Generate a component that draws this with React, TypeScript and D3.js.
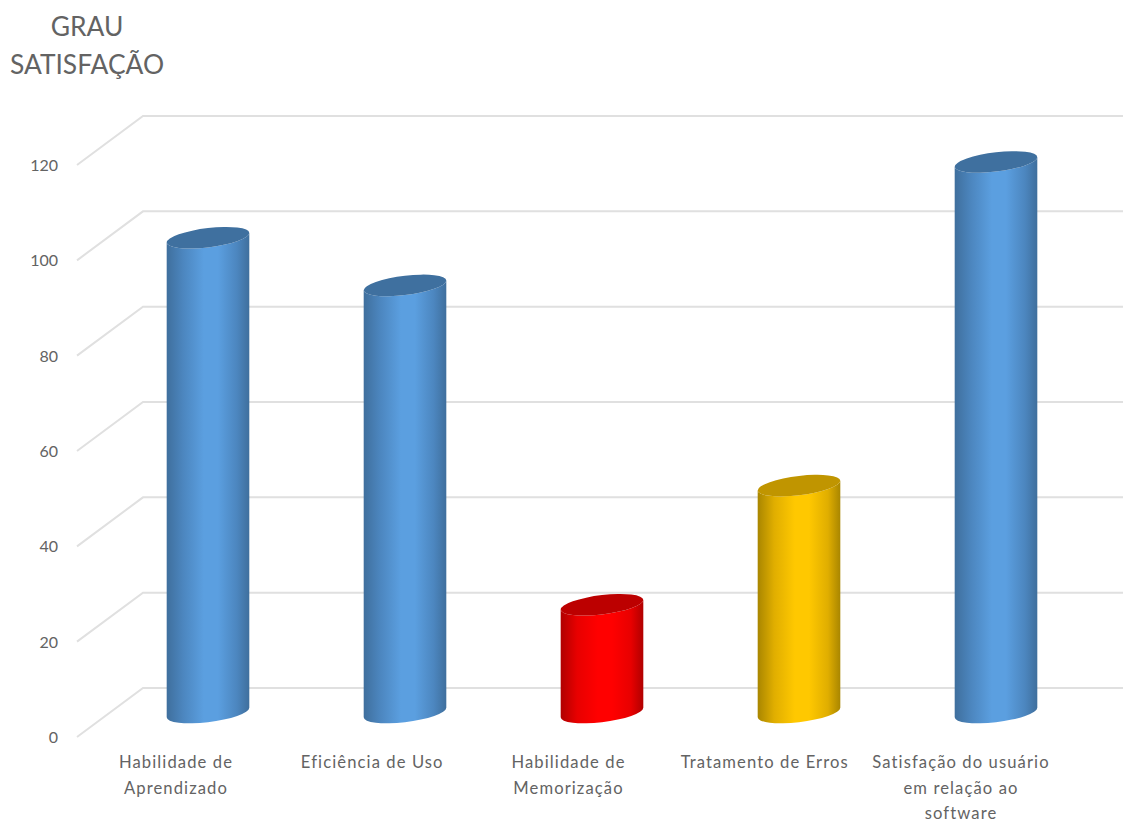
import React from "react";
import * as d3 from "d3";

// Satisfaction score for each usability criterion
const categories = [
  "Habilidade de Aprendizado",
  "Eficiência de Uso",
  "Habilidade de Memorização",
  "Tratamento de Erros",
  "Satisfação do usuário em relação ao software",
];
const values = [99.6, 89.6, 22.6, 47.6, 115.5];
const barColors = ["blue", "blue", "red", "amber", "blue"];
const tickValues = [0, 20, 40, 60, 80, 100, 120];
const labelLines = [
  ["Habilidade de", "Aprendizado"],
  ["Eficiência de Uso"],
  ["Habilidade de", "Memorização"],
  ["Tratamento de Erros"],
  ["Satisfação do usuário", "em relação ao", "software"],
];
const titleLines = ["GRAU", "SATISFAÇÃO"];

const palette: Record<string, { edge: string; soft: string; mid: string; top: string }> = {
  blue: { edge: "#3f6f9d", soft: "#4c86bf", mid: "#5b9fe0", top: "#3f709f" },
  red: { edge: "#b00000", soft: "#e80000", mid: "#ff0000", top: "#bc0000" },
  amber: { edge: "#a98600", soft: "#e0ae00", mid: "#ffc800", top: "#c09500" },
};

const WIDTH = 1123;
const HEIGHT = 822;

// Tilted ellipse used for the cylinder caps and bases
const A = 41.6;
const B = 9.6;
const TILT = -7;
const rad = (Math.abs(TILT) * Math.PI) / 180;
const HALF_W = Math.sqrt(A * A * Math.cos(rad) ** 2 + B * B * Math.sin(rad) ** 2);
const SHIFT = ((A * A - B * B) * Math.sin(rad) * Math.cos(rad)) / HALF_W;

const x = d3.scalePoint<string>().domain(categories).range([208, 996]);
const xLabel = d3.scalePoint<string>().domain(categories).range([176, 961]);
const yFront = d3.scaleLinear().domain([0, 120]).range([737, 165]);
const yBack = d3.scaleLinear().domain([0, 120]).range([688, 116]);
const yBar = d3.scaleLinear().domain([0, 120]).range([712.5, 140.5]);
const backX = 143;
const frontX = 77;
const labelFont = "Lato, sans-serif";

function cylinderBody(cx: number, top: number, bottom: number) {
  const l = cx - HALF_W;
  const r = cx + HALF_W;
  return (
    `M${l},${top + SHIFT} L${l},${bottom + SHIFT} ` +
    `A${A},${B} ${TILT} 0 0 ${r},${bottom - SHIFT} ` +
    `L${r},${top - SHIFT} ` +
    `A${A},${B} ${TILT} 0 1 ${l},${top + SHIFT} Z`
  );
}

function cylinderCap(cx: number, top: number) {
  const l = cx - HALF_W;
  const r = cx + HALF_W;
  return (
    `M${l},${top + SHIFT} A${A},${B} ${TILT} 0 1 ${r},${top - SHIFT} ` +
    `A${A},${B} ${TILT} 0 1 ${l},${top + SHIFT} Z`
  );
}

export default function App() {
  return (
    <svg
      width={WIDTH}
      height={HEIGHT}
      style={{ position: "absolute", left: 0, top: 0, display: "block", background: "#fff" }}
    >
      <defs>
        {Object.entries(palette).map(([name, c]) => (
          <linearGradient key={name} id={`cyl-${name}`} x1="0" x2="1" y1="0" y2="0">
            <stop offset="0" stopColor={c.edge} />
            <stop offset="0.2" stopColor={c.soft} />
            <stop offset="0.45" stopColor={c.mid} />
            <stop offset="0.62" stopColor={c.mid} />
            <stop offset="0.85" stopColor={c.soft} />
            <stop offset="1" stopColor={c.edge} />
          </linearGradient>
        ))}
      </defs>

      {titleLines.map((line, i) => (
        <text
          key={line}
          x={87}
          y={36 + i * 38}
          textAnchor="middle"
          fontFamily={labelFont}
          fontSize={26.4}
          fill="#636363"
        >
          {line}
        </text>
      ))}

      {tickValues.map((t) => (
        <g key={t}>
          <polyline
            points={`${frontX},${yFront(t)} ${backX},${yBack(t)} ${WIDTH},${yBack(t)}`}
            fill="none"
            stroke="#e0e0e0"
            strokeWidth={2}
          />
          <text
            x={58}
            y={yFront(t) + 6}
            textAnchor="end"
            fontFamily={labelFont}
            fontSize={16}
            fill="#636363"
          >
            {t}
          </text>
        </g>
      ))}

      {categories.map((cat, i) => {
        const cx = x(cat) as number;
        const top = yBar(values[i]);
        const bottom = yBar(0);
        const c = palette[barColors[i]];
        return (
          <g key={cat}>
            <path d={cylinderBody(cx, top, bottom)} fill={`url(#cyl-${barColors[i]})`} />
            <path d={cylinderCap(cx, top)} fill={c.top} />
          </g>
        );
      })}

      {categories.map((cat, i) => (
        <text
          key={cat}
          textAnchor="middle"
          fontFamily={labelFont}
          fontSize={16.6}
          letterSpacing={1.1}
          fill="#636363"
        >
          {labelLines[i].map((line, j) => (
            <tspan key={line} x={xLabel(cat) as number} y={768 + j * 25.5}>
              {line}
            </tspan>
          ))}
        </text>
      ))}
    </svg>
  );
}
